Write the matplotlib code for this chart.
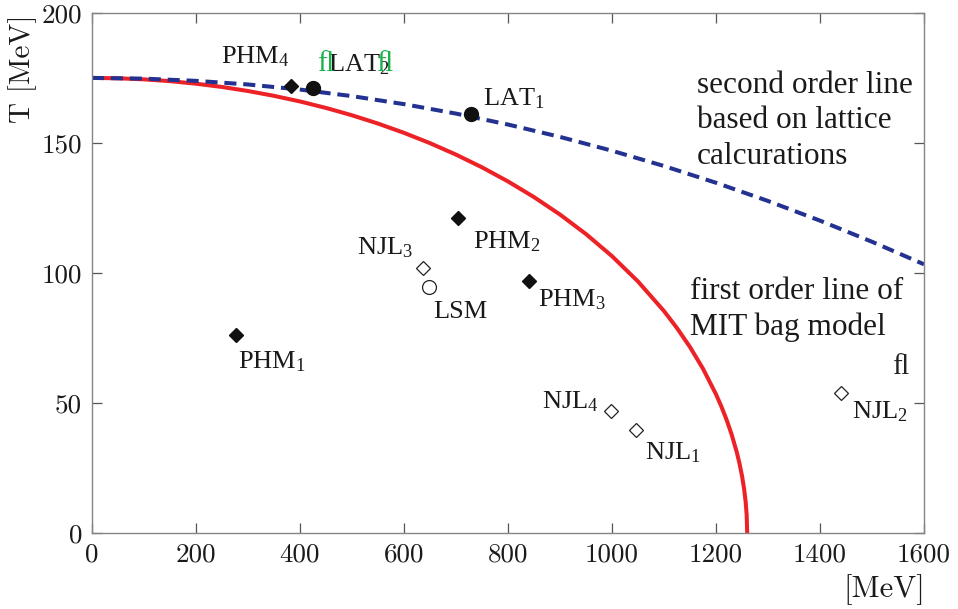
import matplotlib
matplotlib.use("Agg")
import matplotlib.pyplot as plt

plt.rcParams["mathtext.fontset"] = "custom"
plt.rcParams["mathtext.rm"] = "Liberation Serif"
plt.rcParams["mathtext.it"] = "Liberation Serif:italic"

# first order line (MIT bag model)
bag_mu = [0, 50, 100, 150, 200, 250, 300, 350, 400, 450, 500, 550, 600, 650,
          700, 750, 800, 850, 900, 950, 1000, 1050, 1100, 1125, 1150, 1175,
          1200, 1210, 1220, 1230, 1240, 1245, 1250, 1254, 1257, 1259, 1260]
bag_T = [175, 174.86, 174.45, 173.76, 172.78, 171.52, 169.97, 168.11, 165.95,
         163.46, 160.63, 157.45, 153.88, 149.92, 145.51, 140.62, 135.20,
         129.18, 122.47, 114.96, 106.47, 96.73, 85.35, 78.81, 71.51, 63.19,
         53.36, 48.81, 43.74, 37.96, 31.06, 26.92, 22.00, 17.06, 12.07, 6.97, 0]

# second order line (lattice)
lat_mu = [0, 100, 200, 300, 400, 500, 600, 700, 800, 900, 1000, 1100, 1200,
          1300, 1400, 1500, 1600]
lat_T = [175, 174.72, 173.88, 172.48, 170.52, 168.0, 164.92, 161.28, 157.08,
         152.32, 147.0, 141.12, 134.68, 127.68, 120.12, 112.0, 103.32]

# model points
phm_mu = [277, 704, 840, 383]
phm_T = [76, 121, 97, 172]
lat_pts_mu = [729, 425]
lat_pts_T = [161, 171]
njl_mu = [1046, 1440, 637, 998]
njl_T = [39.6, 54, 102, 47]
lsm_mu = [648]
lsm_T = [94.6]

fig = plt.figure(figsize=(9.58, 6.09), dpi=100)
ax = fig.add_axes([0.096, 0.1248, 0.8685, 0.854])

ax.plot(bag_mu, bag_T, color="#ec2227", lw=2.9, solid_capstyle="butt")
ax.plot(lat_mu, lat_T, color="#233190", lw=2.9, dashes=(3.0, 1.7))

ax.plot(phm_mu, phm_T, "D", color="#111111", ms=7.6, mec="#111111")
ax.plot(lat_pts_mu, lat_pts_T, "o", color="#111111", ms=10)
ax.plot(njl_mu, njl_T, "D", mfc="white", mec="#222222", mew=0.9, ms=7.6)
ax.plot(lsm_mu, lsm_T, "o", mfc="white", mec="#222222", mew=0.9, ms=10)

ax.set_xlim(0, 1600)
ax.set_ylim(0, 200)
ax.set_xticks(range(0, 1601, 200))
ax.set_yticks(range(0, 201, 50))
for s in ax.spines.values():
    s.set_color("#858585")
    s.set_linewidth(1.0)
ax.tick_params(direction="in", length=7, width=0.9, color="#555555",
               top=True, right=True, labelsize=19.5, pad=7)
for lab in ax.get_xticklabels() + ax.get_yticklabels():
    lab.set_fontfamily("cmr10")
    lab.set_color("#1a1a1a")

tk = dict(family="Liberation Serif", fontsize=19, color="#1a1a1a",
          va="center", ha="left")
ax.text(248, 183, r"PHM$_{\mathrm{4}}$", **tk)
ax.text(454, 180, r"LAT$_{\mathrm{2}}$", **tk)
ax.text(752, 167, r"LAT$_{\mathrm{1}}$", **tk)
ax.text(733, 112, r"PHM$_{\mathrm{2}}$", **tk)
ax.text(510, 109.6, r"NJL$_{\mathrm{3}}$", **tk)
ax.text(656, 85, "LSM", **tk)
ax.text(858, 89.6, r"PHM$_{\mathrm{3}}$", **tk)
ax.text(281, 65.8, r"PHM$_{\mathrm{1}}$", **tk)
ax.text(865, 50.4, r"NJL$_{\mathrm{4}}$", **tk)
ax.text(1063, 31, r"NJL$_{\mathrm{1}}$", **tk)
ax.text(1461, 46.5, r"NJL$_{\mathrm{2}}$", **tk)

# stray ligature glyphs in the source figure
fl = dict(family=["Liberation Serif", "DejaVu Serif"], fontsize=21,
          va="center", ha="left")
ax.text(433, 180.5, "\ufb02", color="#19b24b", **fl)
ax.text(546, 180.5, "\ufb02", color="#19b24b", **fl)
ax.text(1538, 64, "\ufb02", color="#222222", **fl)

ann = dict(family="Liberation Serif", fontsize=22.5, color="#1a1a1a",
           ha="left", va="center", linespacing=1.3)
ax.text(1163, 158.5, "second order line\nbased on lattice\ncalcurations", **ann)
ax.text(1150, 86, "first order line of\nMIT bag model", **ann)

fig.text(23 / 958, 1 - 69 / 609, "T [MeV]", family="cmr10", fontsize=21,
         rotation=90, ha="center", va="center", color="#1a1a1a")
fig.text(925 / 958, 1 - 590 / 609, "[MeV]", family="cmr10", fontsize=22,
         ha="right", va="center", color="#1a1a1a")

fig.savefig("out.png", dpi=100)
